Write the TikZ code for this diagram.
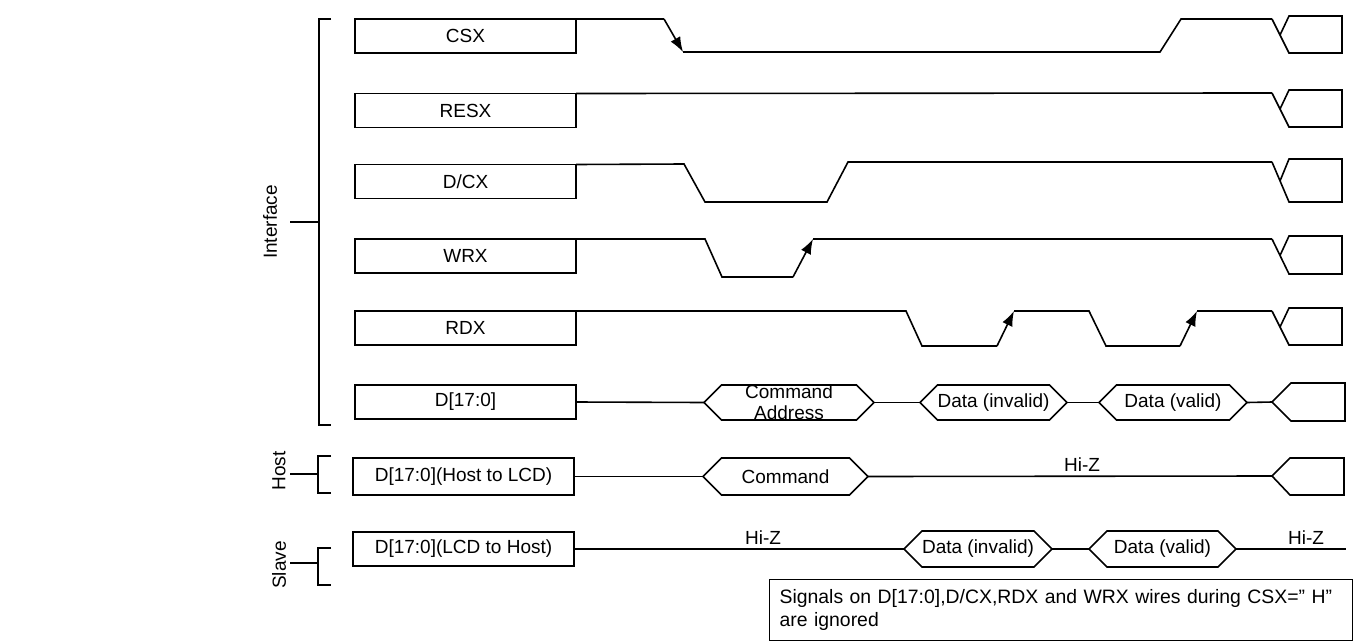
\documentclass[tikz,border=0pt]{standalone}
\usepackage{fontspec}
\setmainfont{Liberation Sans}
\usetikzlibrary{arrows.meta, shapes.symbols, positioning}

\tikzset{
    sig/.style={line width=1.6pt, line join=miter},
    edgearr/.style={sig, -{Latex[length=15pt,width=11pt]}},
    namebox/.style={draw, line width=1.6pt, minimum width=221pt, minimum height=34pt,
        inner sep=0pt, outer sep=0pt, font=\fontsize{19}{21}\selectfont},
    busval/.style={draw, line width=1.6pt, signal, signal to=east and west,
        signal from=nowhere, signal pointer angle=90, minimum height=35pt,
        inner sep=0pt, outer sep=0pt, font=\fontsize{19}{21}\selectfont},
    lbl/.style={font=\fontsize{19}{21}\selectfont, inner sep=0pt}
}

\begin{document}
\begin{tikzpicture}[x=1pt, y=-1pt]

    \useasboundingbox (0,0) rectangle (1359,642);

    % signal name boxes
    \node[namebox] (csx)    at (465.5,36)    {CSX};
    \node[namebox] (resx)   at (465.5,110.5) {RESX};
    \node[namebox] (dcx)    at (465.5,181.5) {D/CX};
    \node[namebox] (wrx)    at (465.5,256)   {WRX};
    \node[namebox] (rdx)    at (465.5,328)   {RDX};
    \node[namebox] (dbus)   at (465.5,402)   {D[17:0]};
    \node[namebox, minimum height=37pt] (dhost)  at (463.5,476.5) {D[17:0](Host to LCD)};
    \node[namebox] (dslave) at (463.5,549)   {D[17:0](LCD to Host)};

    % brackets on the left
    \draw[sig] (331,19) -- (319,19) -- (319,425) -- (331,425);
    \draw[sig] (290,222) -- (319,222);
    \node[lbl, rotate=90] (ifc) at (270,222) {Interface};
    \draw[sig] (331,456) -- (318,456) -- (318,493) -- (331,493);
    \draw[sig] (290,474) -- (318,474);
    \node[lbl, rotate=90] (host) at (279,471) {Host};
    \draw[sig] (331,548) -- (318,548) -- (318,585) -- (331,585);
    \draw[sig] (290,563) -- (318,563);
    \node[lbl, rotate=90] (slave) at (279,565) {Slave};

    % CSX
    \draw[sig] (csx.north east) -- (664,19);
    \draw[edgearr] (664,19) -- (683,52);
    \draw[sig] (683,52) -- (1160,52) -- (1181,19) -- (1272,19);

    % RESX
    \draw[sig] (resx.north east) -- (1272,93);

    % D/CX
    \draw[sig] (dcx.north east) -- (684,164) -- (705,202) -- (827,202) -- (848,162) -- (1272,162);

    % WRX
    \draw[sig] (wrx.north east) -- (705,239) -- (722,277) -- (793,277);
    \draw[edgearr] (793,277) -- (813,239);
    \draw[sig] (813,239) -- (1272,239);

    % RDX
    \draw[sig] (rdx.north east) -- (906,311) -- (922,346) -- (997,346);
    \draw[edgearr] (997,346) -- (1014,311);
    \draw[sig] (1014,311) -- (1089,311) -- (1106,346) -- (1180,346);
    \draw[edgearr] (1180,346) -- (1197,311);
    \draw[sig] (1197,311) -- (1272,311);

    % ends of the control lines
    \foreach \hi/\lo in {19/53, 93/127, 162/202, 239/274, 311/345}
        \draw[sig] (1272,\hi) -- (1289,\lo) -- (1342,\lo) -- (1342,{\hi-3})
            -- (1289,{\hi-3}) -- (1280,{(\hi+\lo)/2-1});

    % D[17:0]
    \node[busval, minimum width=170pt] (cmdaddr) at (789,402.5) {};
    \node[lbl, align=center] (cmdaddrtxt) at (cmdaddr.center) {Command\\Address};
    \node[busval, minimum width=143pt] (datinv) at (993.5,402.5) {Data (invalid)};
    \node[busval, minimum width=148pt] (datval) at (1173,402.5) {Data (valid)};
    \coordinate (dend) at (1272,402);
    \draw[sig] (dbus.east) -- (cmdaddr.west);
    \draw[sig] (cmdaddr.east) -- (datinv.west);
    \draw[sig] (datinv.east) -- (datval.west);
    \draw[sig] (datval.east) -- (dend);
    \draw[sig] (dend) -- (1291,383) -- (1345,383) -- (1345,421) -- (1291,421) -- cycle;

    % D[17:0] host to LCD
    \node[busval, minimum width=165pt, minimum height=37pt] (cmd) at (785.5,476.5) {Command};
    \coordinate (hend) at (1272,476);
    \draw[sig] (dhost.east) -- (cmd.west);
    \draw[sig] (cmd.east) -- (hend);
    \draw[sig] (hend) -- (1290,458) -- (1344,458) -- (1344,495) -- (1290,495) -- cycle;
    \node[lbl, above=4pt] (hizh) at (1082,476) {Hi-Z};

    % D[17:0] LCD to host
    \node[busval, minimum width=144pt, minimum height=36pt] (sdatinv) at (978,549) {Data (invalid)};
    \node[busval, minimum width=147pt, minimum height=36pt] (sdatval) at (1162.5,549) {Data (valid)};
    \coordinate (send) at (1346,549);
    \draw[sig] (dslave.east) -- (sdatinv.west);
    \draw[sig] (sdatinv.east) -- (sdatval.west);
    \draw[sig] (sdatval.east) -- (send);
    \node[lbl, above=4pt] (hizs1) at (763,549) {Hi-Z};
    \node[lbl, above=4pt] (hizs2) at (1306,549) {Hi-Z};

    % note
    \node[draw, line width=1.2pt, anchor=north west, minimum width=583pt, minimum height=61pt,
        text width=563pt, align=left, inner xsep=10pt, inner ysep=0pt,
        font=\fontsize{19.4}{22.5}\selectfont] (note) at (769,579)
        {Signals on D[17:0],D/CX,RDX and WRX wires during CSX=”\ H”\\are ignored};

\end{tikzpicture}
\end{document}
